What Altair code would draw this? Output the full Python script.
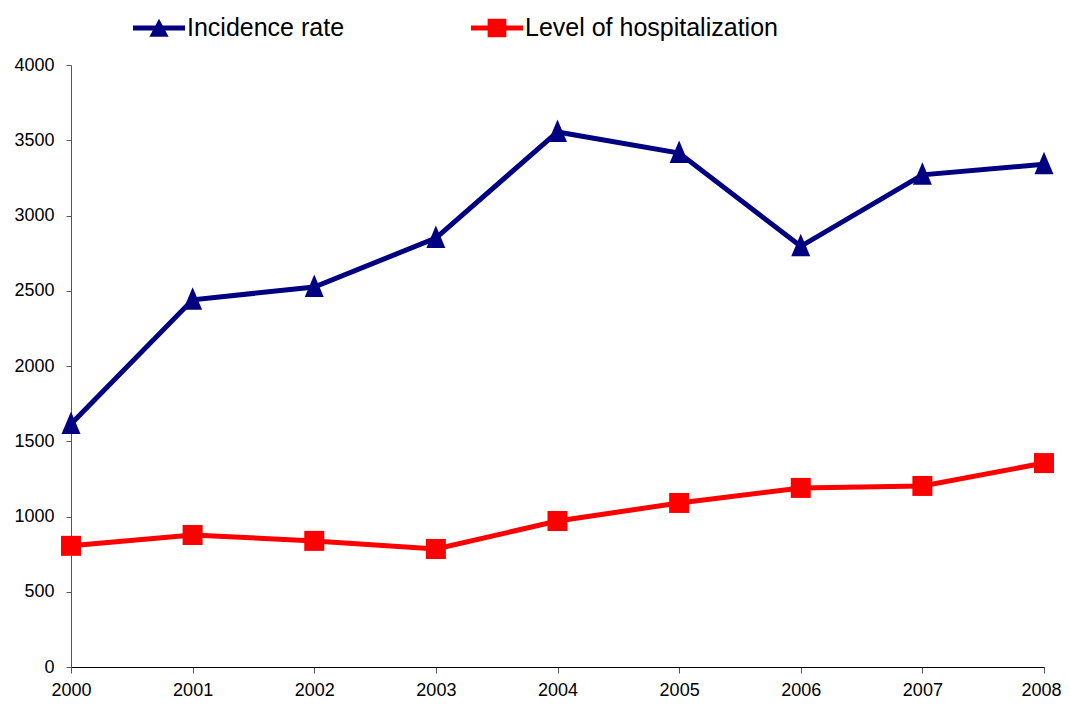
import altair as alt
import pandas as pd

years = [2000, 2001, 2002, 2003, 2004, 2005, 2006, 2007, 2008]
incidence = [1615, 2440, 2525, 2850, 3555, 3415, 2795, 3270, 3340]
hospitalization = [805, 877, 838, 784, 970, 1090, 1190, 1203, 1355]
series_names = ["Incidence rate", "Level of hospitalization"]
series_colors = ["#000080", "#FF0000"]
y_ticks = [0, 500, 1000, 1500, 2000, 2500, 3000, 3500, 4000]

rows = []
for y, a, b in zip(years, incidence, hospitalization):
    rows.append({"year": y, "value": a, "series": series_names[0]})
    rows.append({"year": y, "value": b, "series": series_names[1]})
df = pd.DataFrame(rows)

FONT = "Liberation Sans"

x_enc = alt.X("year:Q", scale=alt.Scale(domain=[years[0], years[-1]], nice=False, zero=False),
              axis=alt.Axis(values=years, format="d", title=None, grid=False,
                            labelFontSize=18, labelFont=FONT, labelColor="black",
                            tickSize=6, labelPadding=8, domainColor="#000000",
                            tickColor="#555555", labelFlush=False,
                            labelOffset={"condition": {"test": "datum.value == 2008", "value": -3},
                                         "value": 0}))
y_enc = alt.Y("value:Q", scale=alt.Scale(domain=[0, 4000], nice=False),
              axis=alt.Axis(values=y_ticks, format="d", title=None, grid=False,
                            labelFontSize=18, labelFont=FONT, labelColor="black",
                            tickSize=5, labelPadding=12, domainColor="#555555",
                            tickColor="#555555"))

color_scale = alt.Scale(domain=series_names, range=series_colors)

tri_marker = "M0,-1.25 L0.95,1 L-0.95,1 Z"

lines = alt.Chart(df).mark_line(strokeWidth=5).encode(
    x=x_enc, y=y_enc,
    color=alt.Color("series:N", scale=color_scale),
    detail="series:N",
)

tri = alt.Chart(df[df.series == series_names[0]]).mark_point(
    filled=True, opacity=1, shape=tri_marker, size=400, color=series_colors[0]
).encode(x="year:Q", y="value:Q")

sq = alt.Chart(df[df.series == series_names[1]]).mark_point(
    filled=True, opacity=1, shape="square", size=400, color=series_colors[1]
).encode(x="year:Q", y="value:Q")

tri_path = "M-1,-0.095 L1,-0.095 L1,0.095 L-1,0.095 Z M0,-0.36 L0.37,0.34 L-0.37,0.34 Z"
sq_path = "M-1,-0.095 L1,-0.095 L1,0.095 L-1,0.095 Z M-0.36,-0.36 L0.36,-0.36 L0.36,0.36 L-0.36,0.36 Z"

leg = alt.Legend(title=None, orient="none", direction="horizontal",
                 legendX=62, legendY=-63,
                 labelFont=FONT, labelFontSize=25, labelColor="black", labelLimit=500,
                 symbolSize=2704, symbolOpacity=1, labelOffset=2,
                 columnPadding=126, symbolStrokeWidth=0)

legend_layer = alt.Chart(df).mark_point(filled=True, opacity=0, size=10).encode(
    x="year:Q", y="value:Q",
    color=alt.Color("series:N", scale=color_scale, legend=leg),
    shape=alt.Shape("series:N", scale=alt.Scale(domain=series_names, range=[tri_path, sq_path]),
                    legend=leg),
)

chart = alt.layer(lines, tri, sq, legend_layer).properties(
    width=973, height=602,
    padding={"left": 63, "top": 57, "right": 18, "bottom": 40},
    autosize=alt.AutoSizeParams(type="none"),
    background="white",
).configure_view(stroke=None).configure_axis(domainWidth=1, tickWidth=1)

chart.save("out.html", embed_options={"renderer": "svg", "actions": False})
